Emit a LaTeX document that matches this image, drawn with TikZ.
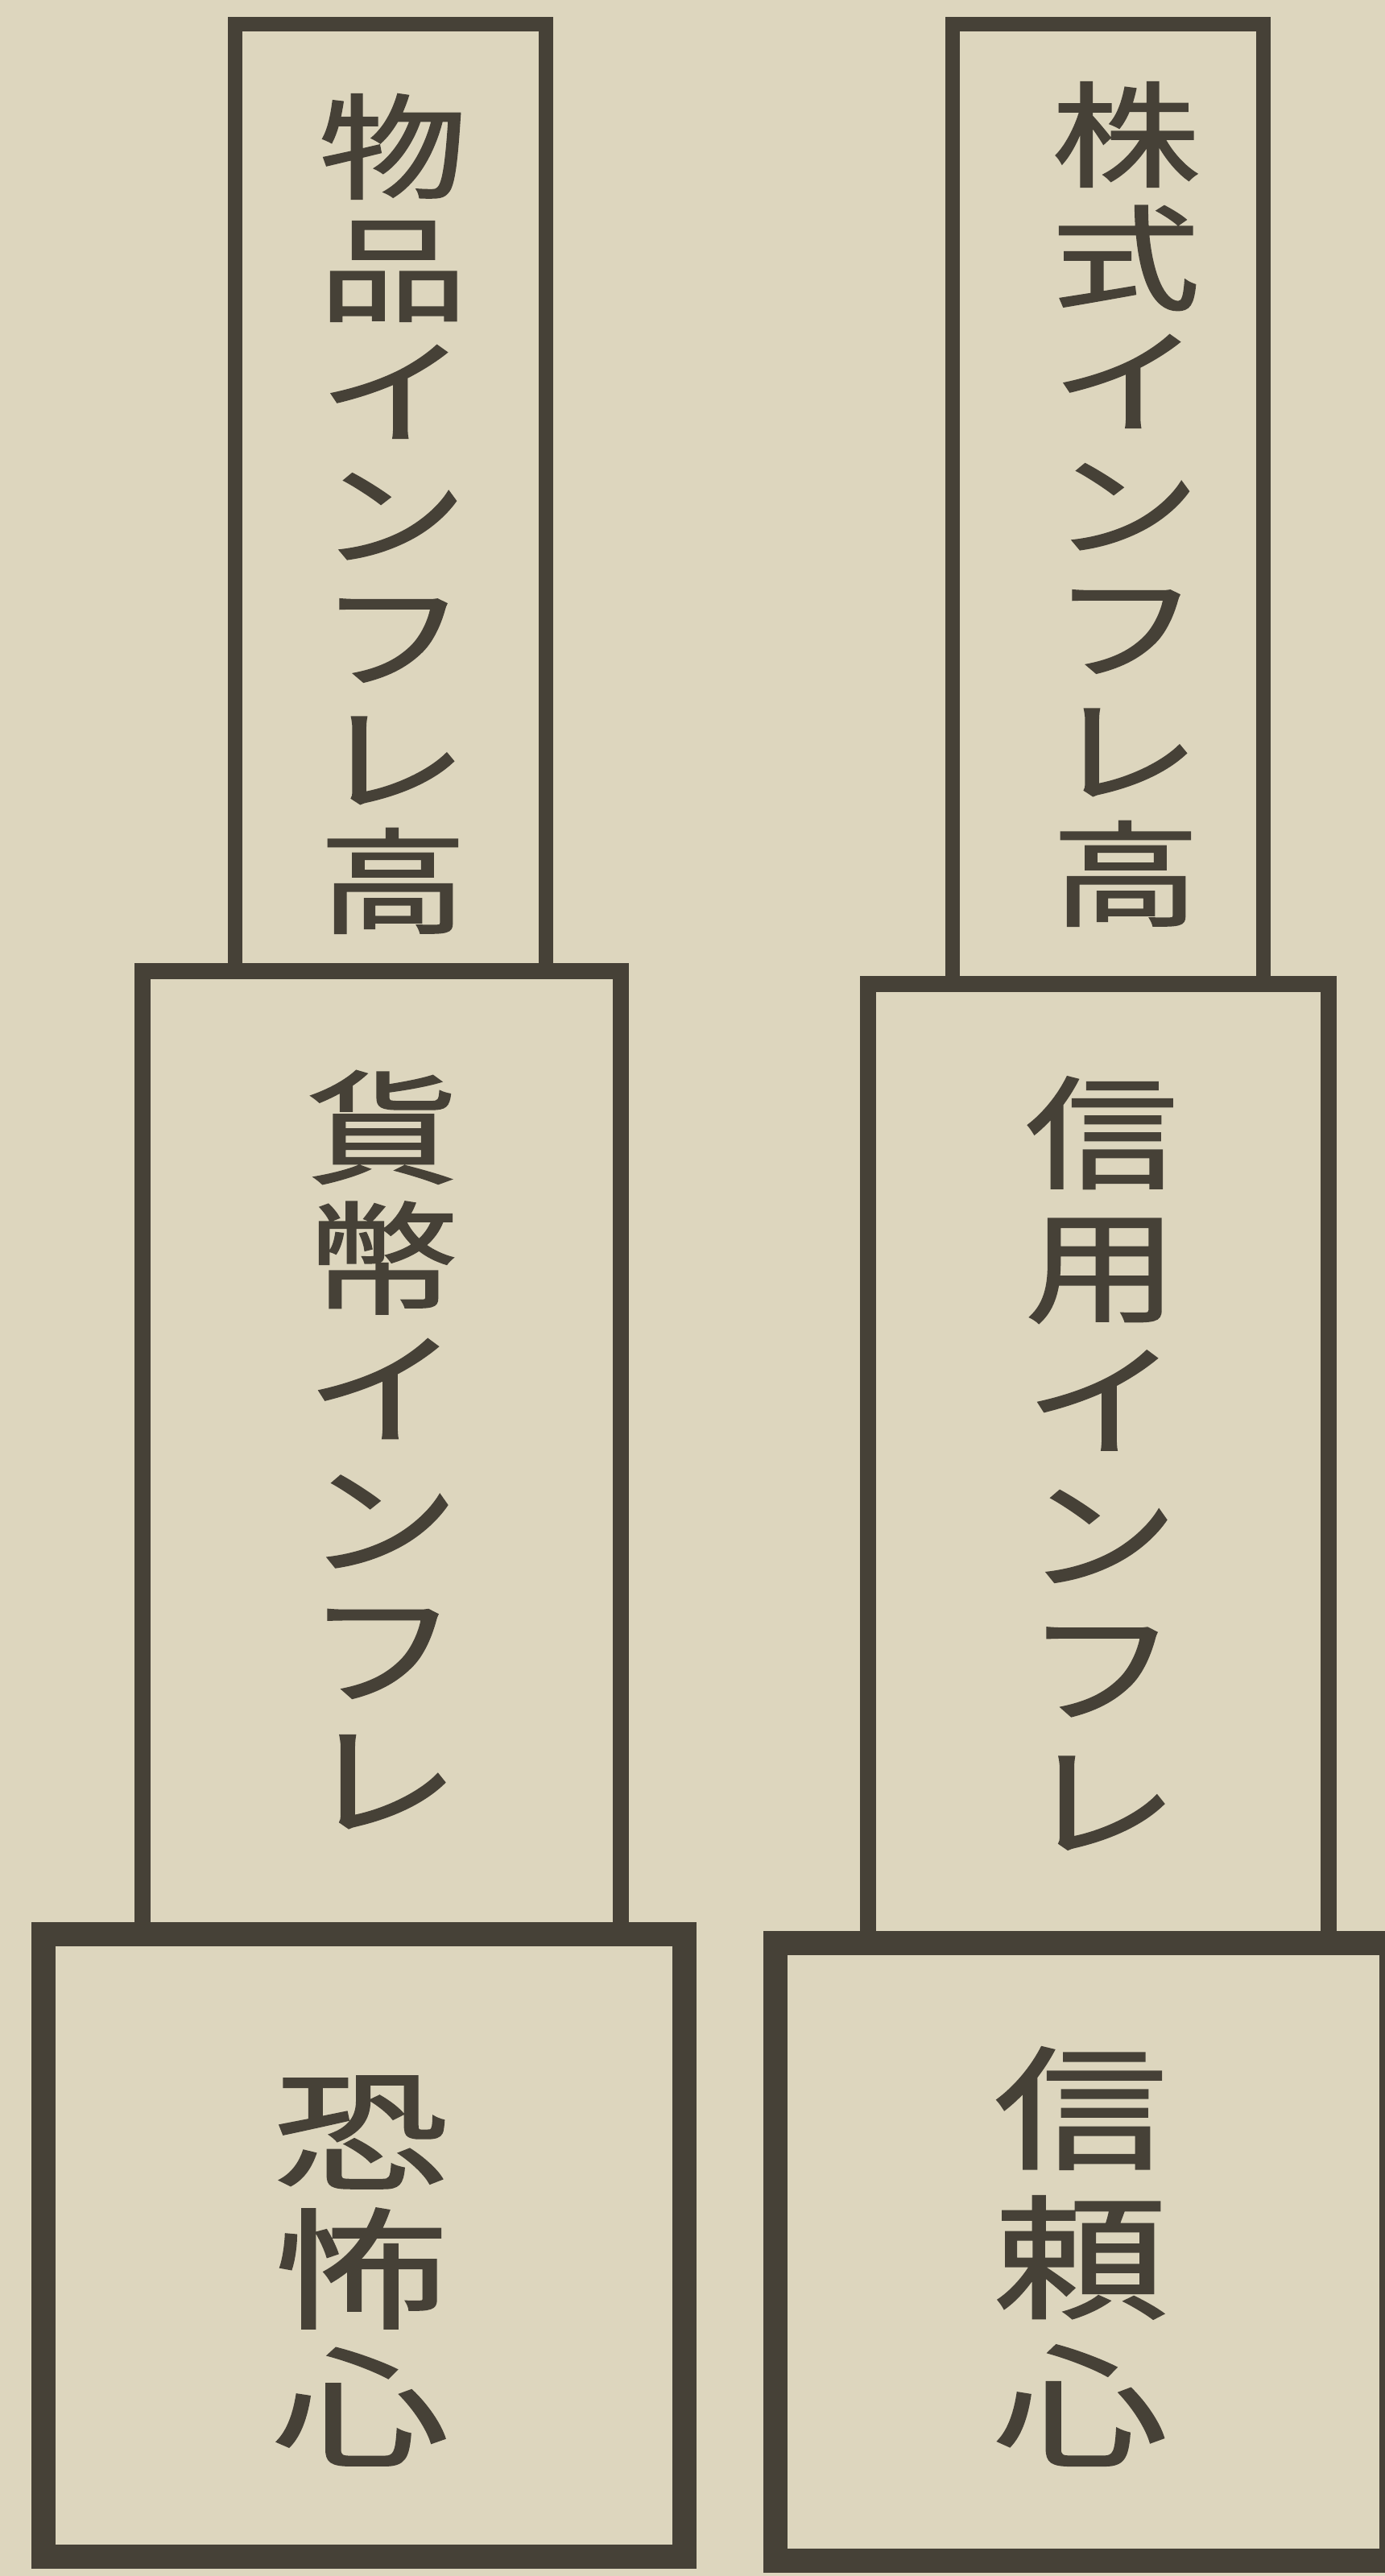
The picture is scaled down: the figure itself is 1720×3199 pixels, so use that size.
\documentclass[tikz,border=0pt]{standalone}
\usepackage{fontspec}
\usepackage{graphicx}
\newfontfamily\cjk[FakeBold=1.2]{Noto Sans CJK JP}
\definecolor{paper}{RGB}{221,214,190}
\definecolor{ink}{RGB}{70,65,55}
% #1 font size, #2 horizontal stretch, #3 pitch, #4 rows separated by \cr
\newcommand{\vcol}[4]{\scalebox{#2}[1]{\cjk\fontsize{#1}{#1}\selectfont\vbox{\baselineskip=#3pt\lineskiplimit=-1000pt\lineskip=0pt\halign{\hfil##\hfil\cr #4}}}}
\tikzset{
  boxthin/.style={draw=ink, line width=18pt, inner sep=0pt, minimum width=#1},
  boxmid/.style={draw=ink, line width=20pt, inner sep=0pt, minimum width=#1},
  boxthick/.style={draw=ink, line width=30pt, inner sep=0pt, minimum width=#1},
  label/.style={text=ink, inner sep=0pt}
}
\begin{document}
\begin{tikzpicture}[x=1pt,y=-1pt]
\fill[paper] (0,0) rectangle (1720,3199);
\useasboundingbox (0,0) rectangle (1720,3199);
% left column
\node[boxthin=386pt, minimum height=1176pt] (lt) at (485,618) {};
\node[boxmid=594pt, minimum height=1196pt] (lm) at (474,1804) {};
\node[boxthick=796pt, minimum height=773pt] (lb) at (452,2788.5) {};
% right column
\node[boxthin=386pt, minimum height=1192pt] (rt) at (1376,626) {};
\node[boxmid=572pt, minimum height=1191pt] (rm) at (1364,1817.5) {};
\node[boxthick=765pt, minimum height=767pt] (rb) at (1345.5,2796.5) {};
% texts
\node[label] (tlt) at (488,638) {\vcol{142}{1.3}{152}{物\cr 品\cr イ\cr ン\cr フ\cr レ\cr 高\cr}};
\node[label] (tlm) at (475,1800) {\vcol{152}{1.25}{162}{貨\cr 幣\cr イ\cr ン\cr フ\cr レ\cr}};
\node[label] (tlb) at (448,2820) {\vcol{162}{1.35}{172}{恐\cr 怖\cr 心\cr}};
\node[label] (trt) at (1398,626) {\vcol{142}{1.3}{153}{株\cr 式\cr イ\cr ン\cr フ\cr レ\cr 高\cr}};
\node[label] (trm) at (1368,1817) {\vcol{152}{1.25}{166}{信\cr 用\cr イ\cr ン\cr フ\cr レ\cr}};
\node[label] (trb) at (1342,2802) {\vcol{166}{1.3}{185}{信\cr 頼\cr 心\cr}};
\end{tikzpicture}
\end{document}
